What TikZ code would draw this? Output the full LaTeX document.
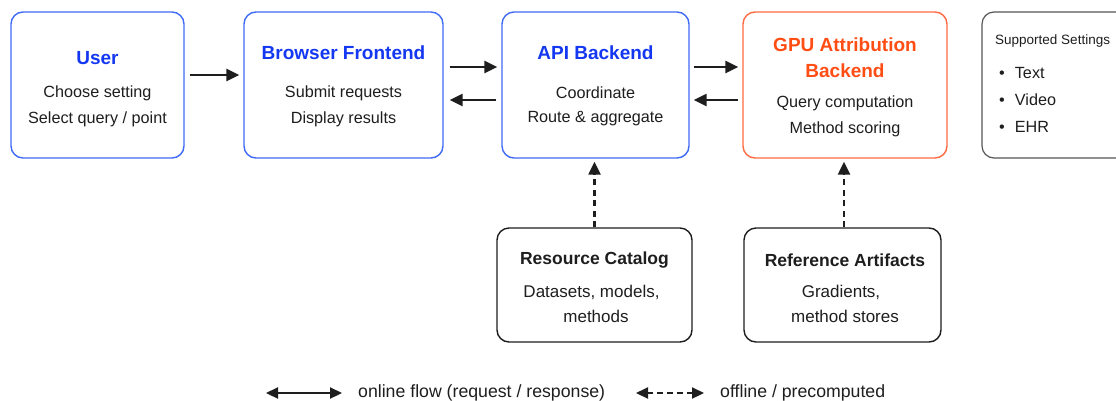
\documentclass[tikz,border=0pt]{standalone}
\usepackage{fontspec}
\setmainfont{Liberation Sans}
\usetikzlibrary{arrows.meta}
\definecolor{blueline}{HTML}{3F6BF6}
\definecolor{bluetext}{HTML}{1438F2}
\definecolor{orangeline}{HTML}{FF6A42}
\definecolor{orangetext}{HTML}{FF4D14}
\definecolor{ink}{HTML}{1E1E1E}
\definecolor{greyline}{HTML}{555555}

\begin{document}
\begin{tikzpicture}[x=1pt,y=-1pt,
  box/.style={draw, line width=1.4pt, rounded corners=12pt, inner sep=0pt},
  bluebox/.style={box, draw=blueline},
  orangebox/.style={box, draw=orangeline},
  inkbox/.style={box, draw=ink},
  greybox/.style={box, draw=greyline, line width=1.2pt},
  title/.style={font=\fontsize{19}{22}\selectfont\bfseries, inner sep=0pt},
  btitle/.style={title, text=bluetext},
  otitle/.style={title, text=orangetext},
  ktitle/.style={font=\fontsize{17.5}{21}\selectfont\bfseries, text=ink, inner sep=0pt},
  body/.style={font=\fontsize{16.2}{19}\selectfont, text=ink, inner sep=0pt},
  lowbody/.style={font=\fontsize{17}{20}\selectfont, text=ink, inner sep=0pt},
  small/.style={font=\fontsize{13.5}{16}\selectfont, text=ink, inner sep=0pt},
  legend/.style={font=\fontsize{17.7}{21}\selectfont, text=ink, inner sep=0pt, anchor=west},
  tip/.style={Triangle[length=13pt,width=12pt]},
  flow/.style={line width=2.4pt, ink, -{Triangle[length=13pt,width=12pt]}},
  offline/.style={flow, dash pattern=on 6pt off 4.5pt},
  both/.style={line width=2.2pt, ink, {Triangle[length=12pt,width=11pt]}-{Triangle[length=12pt,width=11pt]}}
]
\useasboundingbox (0,0) rectangle (1116,400);
\clip (0,0) rectangle (1116,400);
\fill[white] (0,0) rectangle (1116,400);

% top row boxes
\node[bluebox, minimum width=173pt, minimum height=146pt] (user) at (97.5,85) {};
\node[bluebox, minimum width=199pt, minimum height=146pt] (browser) at (343.5,85) {};
\node[bluebox, minimum width=187pt, minimum height=146pt] (api) at (595.5,85) {};
\node[orangebox, minimum width=204pt, minimum height=146pt] (gpu) at (845,85) {};
\node[greybox, minimum width=160pt, minimum height=146pt] (settings) at (1062,85) {};

% bottom row boxes
\node[inkbox, minimum width=195pt, minimum height=114pt] (catalog) at (594.5,285) {};
\node[inkbox, minimum width=197pt, minimum height=114pt] (artifacts) at (842.5,285) {};

% box texts
\node[btitle] (user-t) at (97.5,58) {User};
\node[body] (user-a) at (97.5,93) {Choose setting};
\node[body] (user-b) at (97.5,119) {Select query / point};

\node[btitle] (browser-t) at (343.5,53) {Browser Frontend};
\node[body] (browser-a) at (343.5,93) {Submit requests};
\node[body] (browser-b) at (343.5,119) {Display results};

\node[btitle] (api-t) at (595.5,53) {API Backend};
\node[body] (api-a) at (595.5,93) {Coordinate};
\node[body] (api-b) at (595.5,119) {Route \& aggregate};

\node[otitle] (gpu-t1) at (845,45) {GPU Attribution};
\node[otitle] (gpu-t2) at (845,71) {Backend};
\node[body] (gpu-a) at (845,103) {Query computation};
\node[body] (gpu-b) at (845,129) {Method scoring};

\node[small, anchor=west] (set-t) at (995,41) {Supported Settings};
\node[body, anchor=west] (set-a) at (999,73) {\textbullet\hspace{10pt}Text};
\node[body, anchor=west] (set-b) at (999,100) {\textbullet\hspace{10pt}Video};
\node[body, anchor=west] (set-c) at (999,127) {\textbullet\hspace{10pt}EHR};

\node[ktitle] (catalog-t) at (594.5,260) {Resource Catalog};
\node[lowbody] (catalog-a) at (591.5,292) {Datasets, models,};
\node[lowbody] (catalog-b) at (596,316) {methods};

\node[ktitle] (artifacts-t) at (845,260) {Reference Artifacts};
\node[lowbody] (artifacts-a) at (841,292) {Gradients,};
\node[lowbody] (artifacts-b) at (845,316) {method stores};

% online connectors
\draw[flow] ([xshift=5pt,yshift=10pt]user.east) -- ([xshift=-4pt,yshift=10pt]browser.west);
\draw[flow] ([xshift=6pt,yshift=18pt]browser.east) -- ([xshift=-4pt,yshift=18pt]api.west);
\draw[flow] ([xshift=-5pt,yshift=-15pt]api.west) -- ([xshift=6pt,yshift=-15pt]browser.east);
\draw[flow] ([xshift=4pt,yshift=18pt]api.east) -- ([xshift=-4pt,yshift=18pt]gpu.west);
\draw[flow] ([xshift=-4pt,yshift=-15pt]gpu.west) -- ([xshift=4pt,yshift=-15pt]api.east);

% offline connectors
\draw[offline] (catalog.north) -- ([yshift=-3pt]catalog.north |- api.south);
\draw[offline] ([xshift=1.5pt]artifacts.north) -- ([xshift=1.5pt,yshift=-3pt]artifacts.north |- gpu.south);

% legend
\coordinate (on-l) at (266,393);
\coordinate (on-r) at (342,393);
\coordinate (off-l) at (636,393);
\coordinate (off-r) at (704,393);
\draw[both] (on-l) -- (on-r);
\draw[both, dash pattern=on 6pt off 4pt] (off-l) -- (off-r);
\node[legend] (on-txt) at (358,393) {online flow (request / response)};
\node[legend] (off-txt) at (720,393) {offline / precomputed};
\end{tikzpicture}
\end{document}
